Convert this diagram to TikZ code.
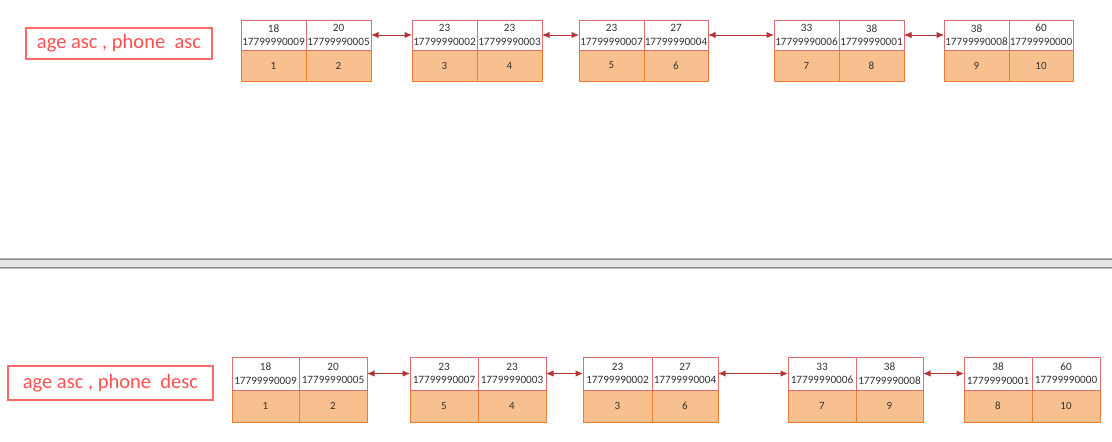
\documentclass[tikz,border=0pt]{standalone}
\usepackage{fontspec}
\setmainfont{Carlito}
\usetikzlibrary{arrows.meta}
\definecolor{cellred}{RGB}{222,110,110}
\definecolor{cellorange}{RGB}{237,125,49}
\definecolor{cellfill}{RGB}{249,192,143}
\definecolor{arrowred}{RGB}{178,52,52}
\definecolor{labred}{RGB}{255,80,80}
\definecolor{labborder}{RGB}{255,105,105}
\definecolor{txt}{RGB}{50,50,50}
\definecolor{sepfill}{RGB}{228,228,228}
\definecolor{sepdark}{RGB}{140,140,140}
\definecolor{seplight}{RGB}{185,185,185}
\tikzset{
  cellbase/.style={rectangle, inner sep=0pt, outer sep=0pt, text=txt, align=center},
  topcell/.style={cellbase, draw=cellred, fill=white, line width=0.9pt, font=\fontsize{11.2}{13.5}\selectfont},
  botcell/.style={cellbase, draw=cellorange, fill=cellfill, line width=0.9pt, font=\fontsize{11}{13}\selectfont},
  labelbox/.style={rectangle, draw=labborder, line width=1.1pt, text=labred, inner sep=0pt, font=\fontsize{20.5}{23}\selectfont},
  link/.style={draw=arrowred, line width=1pt, {Latex[length=7.5pt,width=6.5pt]}-{Latex[length=7.5pt,width=6.5pt]}}
}
\newcommand\blk[8]{%
  \node[botcell, minimum width={(#3-#2)*1pt}, minimum height={(\yb-\yd)*1pt}] (#1bl) at ({(#2+#3)/2},{(\yd+\yb)/2}) {#7};
  \node[botcell, minimum width={(#4-#3)*1pt}, minimum height={(\yb-\yd)*1pt}] (#1br) at ({(#3+#4)/2},{(\yd+\yb)/2}) {#8};
  \node[topcell, minimum width={(#3-#2)*1pt}, minimum height={(\yd-\yt)*1pt}] (#1tl) at ({(#2+#3)/2},{(\yt+\yd)/2}) {#5};
  \node[topcell, minimum width={(#4-#3)*1pt}, minimum height={(\yd-\yt)*1pt}] (#1tr) at ({(#3+#4)/2},{(\yt+\yd)/2}) {#6};
}
\begin{document}
\begin{tikzpicture}[x=1pt,y=-1pt]
\useasboundingbox (0,0) rectangle (1112,442);
% separator
\fill[sepfill] (0,258) rectangle (1112,269);
\draw[seplight, line width=0.8pt] (0,258.4) -- (1112,258.4);
\draw[sepdark, line width=0.8pt] (0,259.4) -- (1112,259.4);
\draw[sepdark, line width=0.8pt] (0,267.2) -- (1112,267.2);
\draw[seplight, line width=0.8pt] (0,268.4) -- (1112,268.4);
% labels
\node[labelbox, minimum width=186pt, minimum height=31pt] (lab1) at (119,43.5) {age asc , phone\ \ asc};
\node[labelbox, minimum width=205pt, minimum height=34pt] (lab2) at (110.5,383) {age asc , phone\ \ desc};
% top row
\def\yt{20}\def\yd{50}\def\yb{81}
\blk{a1}{241}{306}{371}{18\\17799990009}{20\\17799990005}{1}{2}
\blk{a2}{412}{477}{542}{23\\17799990002}{23\\17799990003}{3}{4}
\blk{a3}{579}{644}{708}{23\\17799990007}{27\\17799990004}{5}{6}
\blk{a4}{774}{839}{904}{33\\17799990006}{38\\17799990001}{7}{8}
\blk{a5}{944}{1009}{1073}{38\\17799990008}{60\\17799990000}{9}{10}
\draw[link] (a1tr.east) -- (a2tl.west);
\draw[link] (a2tr.east) -- (a3tl.west);
\draw[link] (a3tr.east) -- (a4tl.west);
\draw[link] (a4tr.east) -- (a5tl.west);
% bottom row
\def\yt{357}\def\yd{390}\def\yb{422}
\blk{b1}{232}{299}{367}{18\\17799990009}{20\\17799990005}{1}{2}
\blk{b2}{410}{478}{546}{23\\17799990007}{23\\17799990003}{5}{4}
\blk{b3}{583}{652}{718}{23\\17799990002}{27\\17799990004}{3}{6}
\blk{b4}{788}{856}{923}{33\\17799990006}{38\\17799990008}{7}{9}
\blk{b5}{964}{1032}{1100}{38\\17799990001}{60\\17799990000}{8}{10}
\draw[link] (b1tr.east) -- (b2tl.west);
\draw[link] (b2tr.east) -- (b3tl.west);
\draw[link] (b3tr.east) -- (b4tl.west);
\draw[link] (b4tr.east) -- (b5tl.west);
\end{tikzpicture}
\end{document}
